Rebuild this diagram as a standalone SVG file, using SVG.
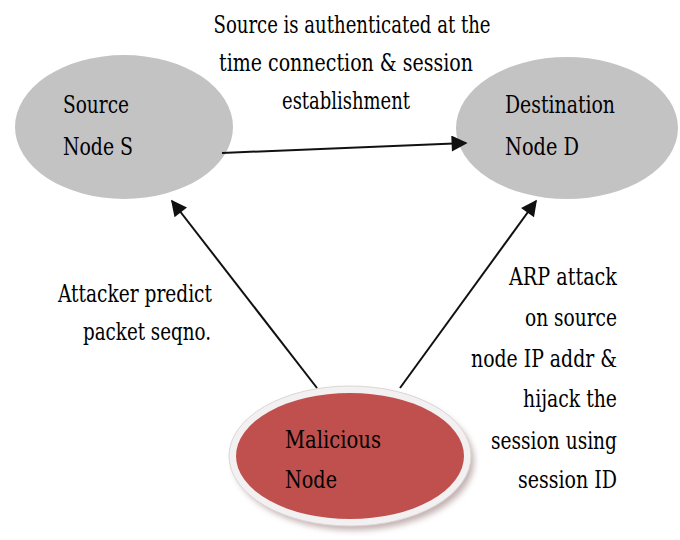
<svg xmlns="http://www.w3.org/2000/svg" width="680" height="540" viewBox="0 0 680 540">
  <style>
    text { font-family: "DejaVu Serif Condensed", "DejaVu Serif", "Liberation Serif", serif; font-stretch: condensed; font-size: 24px; fill: #000; }
    .node { fill: #c3c3c3; }
    .edge { stroke: #111; stroke-width: 2; fill: none; marker-end: url(#arrow); }
    .r { text-anchor: end; }
    .c { text-anchor: middle; }
  </style>
  <defs>
    <marker id="arrow" viewBox="0 0 10 10" refX="9" refY="5" markerWidth="9" markerHeight="8" markerUnits="strokeWidth" orient="auto">
      <path d="M0,0 L10,5 L0,10 z" fill="#111"/>
    </marker>
    <filter id="soft" x="-20%" y="-20%" width="140%" height="140%">
      <feGaussianBlur stdDeviation="3"/>
    </filter>
  </defs>

  <rect width="680" height="540" fill="#fff"/>

  <!-- Header label over the S to D link -->
  <g id="label-top">
    <text class="c" x="352" y="33" textLength="277" lengthAdjust="spacingAndGlyphs">Source is authenticated at the</text>
    <text class="c" x="346" y="71" textLength="254" lengthAdjust="spacingAndGlyphs">time connection &amp; session</text>
    <text class="c" x="346" y="109" textLength="128" lengthAdjust="spacingAndGlyphs">establishment</text>
  </g>

  <g id="source-node">
    <ellipse class="node" cx="124" cy="127" rx="109" ry="72"/>
    <text x="63" y="113" textLength="66" lengthAdjust="spacingAndGlyphs">Source</text>
    <text x="63" y="155" textLength="70" lengthAdjust="spacingAndGlyphs">Node S</text>
  </g>

  <g id="destination-node">
    <ellipse class="node" cx="567" cy="128" rx="111" ry="71"/>
    <text x="505" y="113" textLength="110" lengthAdjust="spacingAndGlyphs">Destination</text>
    <text x="505" y="155" textLength="74" lengthAdjust="spacingAndGlyphs">Node D</text>
  </g>

  <g id="malicious-node">
    <ellipse cx="354" cy="461" rx="120" ry="69" fill="#9a7c7c" opacity="0.6" filter="url(#soft)"/>
    <ellipse cx="350" cy="456" rx="121" ry="70" fill="#f2f0f0" stroke="#dcd6d6" stroke-width="1"/>
    <ellipse cx="350" cy="456" rx="114" ry="63" fill="#c0504d"/>
    <text x="285" y="448" textLength="96" lengthAdjust="spacingAndGlyphs">Malicious</text>
    <text x="285" y="488" textLength="52" lengthAdjust="spacingAndGlyphs">Node</text>
  </g>

  <g id="connectors">
    <line class="edge" x1="222" y1="153" x2="466" y2="143"/>
    <line class="edge" x1="317" y1="388" x2="172" y2="201"/>
    <line class="edge" x1="400" y1="388" x2="536" y2="201"/>
  </g>

  <g id="label-left">
    <text class="r" x="212" y="302" textLength="154" lengthAdjust="spacingAndGlyphs">Attacker predict</text>
    <text class="r" x="211" y="340" textLength="128" lengthAdjust="spacingAndGlyphs">packet seqno.</text>
  </g>

  <g id="label-right">
    <text class="r" x="617" y="285" textLength="108" lengthAdjust="spacingAndGlyphs">ARP attack</text>
    <text class="r" x="617" y="326" textLength="92" lengthAdjust="spacingAndGlyphs">on source</text>
    <text class="r" x="617" y="367" textLength="146" lengthAdjust="spacingAndGlyphs">node IP addr &amp;</text>
    <text class="r" x="617" y="407" textLength="94" lengthAdjust="spacingAndGlyphs">hijack the</text>
    <text class="r" x="617" y="449" textLength="126" lengthAdjust="spacingAndGlyphs">session using</text>
    <text class="r" x="617" y="488" textLength="99" lengthAdjust="spacingAndGlyphs">session ID</text>
  </g>
</svg>
